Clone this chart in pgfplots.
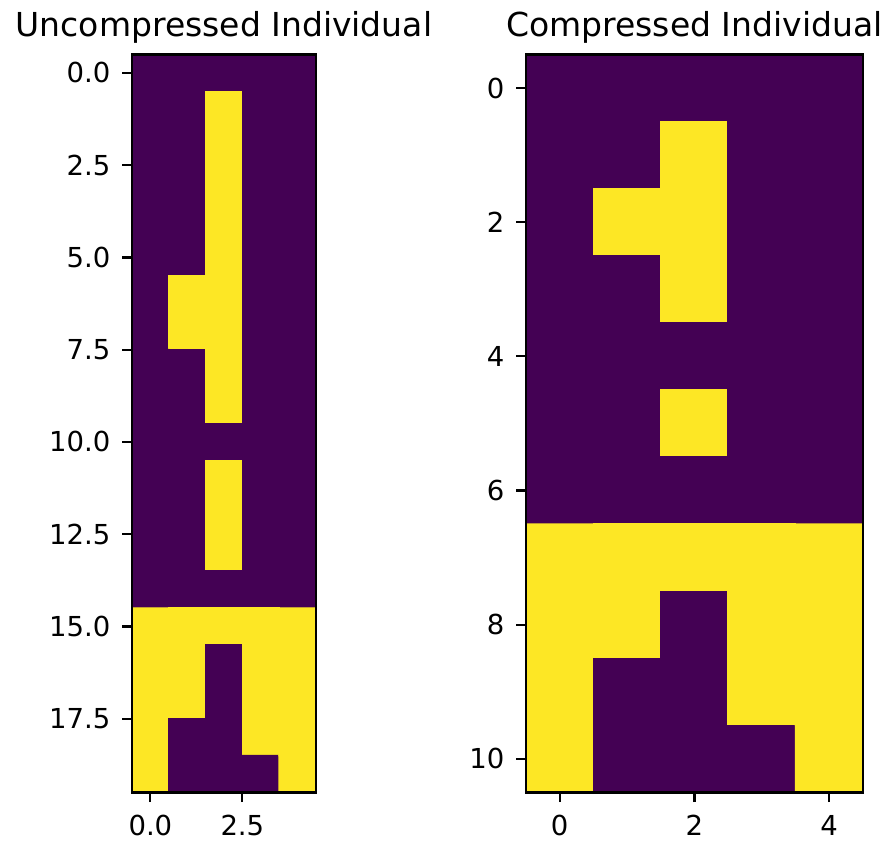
\documentclass[border=0pt]{standalone}
\usepackage{fontspec}
\setmainfont{DejaVu Sans}
\usepackage{pgfplots}
\pgfplotsset{compat=1.18}
\definecolor{vpurple}{RGB}{68,1,84}
\pgfplotsset{img/.style={
  scale only axis, y dir=reverse, axis on top,
  axis background/.style={fill=vpurple},
  colormap={vir}{rgb255=(68,1,84) rgb255=(253,231,37)},
  point meta min=0, point meta max=1,
  tick align=outside,
  ytick pos=left, xtick pos=left, xticklabel pos=left,
  axis line style={black, line width=0.8pt},
  every tick/.style={black, line width=0.8pt},
  major tick length=3.5pt,
  tick label style={font=\fontsize{10}{12}\selectfont, black},
  yticklabel style={inner sep=0pt, anchor=east, xshift=-4.2pt},
  xticklabel style={inner sep=0pt, anchor=north, yshift=-4.5pt},
  title style={font=\fontsize{12}{14}\selectfont, at={(0.5,1)}, anchor=base, yshift=0.7pt},
  /pgf/number format/assume math mode=true,
}}
\begin{document}
\begin{tikzpicture}
\useasboundingbox (0,0) rectangle (323.3pt,-306.5pt);
\begin{axis}[img, width=66.9pt, height=268.4pt,
  at={(81.45pt,-154.0pt)}, anchor=center,
  xmin=-0.5, xmax=4.5, ymin=-0.5, ymax=19.5,
  xtick={0,2.5}, ytick={0,2.5,5,7.5,10,12.5,15,17.5},
  xticklabel style={/pgf/number format/.cd, fixed, fixed zerofill, precision=1},
  yticklabel style={/pgf/number format/.cd, fixed, fixed zerofill, precision=1},
  title={Uncompressed Individual}]
\addplot[matrix plot*, shader=faceted, faceted color=mapped color, line width=0.5pt, mesh/cols=5, point meta=explicit] table[row sep=\\, meta=c] {
x y c \\
0 0 0 \\ 1 0 0 \\ 2 0 0 \\ 3 0 0 \\ 4 0 0 \\
0 1 0 \\ 1 1 0 \\ 2 1 1 \\ 3 1 0 \\ 4 1 0 \\
0 2 0 \\ 1 2 0 \\ 2 2 1 \\ 3 2 0 \\ 4 2 0 \\
0 3 0 \\ 1 3 0 \\ 2 3 1 \\ 3 3 0 \\ 4 3 0 \\
0 4 0 \\ 1 4 0 \\ 2 4 1 \\ 3 4 0 \\ 4 4 0 \\
0 5 0 \\ 1 5 0 \\ 2 5 1 \\ 3 5 0 \\ 4 5 0 \\
0 6 0 \\ 1 6 1 \\ 2 6 1 \\ 3 6 0 \\ 4 6 0 \\
0 7 0 \\ 1 7 1 \\ 2 7 1 \\ 3 7 0 \\ 4 7 0 \\
0 8 0 \\ 1 8 0 \\ 2 8 1 \\ 3 8 0 \\ 4 8 0 \\
0 9 0 \\ 1 9 0 \\ 2 9 1 \\ 3 9 0 \\ 4 9 0 \\
0 10 0 \\ 1 10 0 \\ 2 10 0 \\ 3 10 0 \\ 4 10 0 \\
0 11 0 \\ 1 11 0 \\ 2 11 1 \\ 3 11 0 \\ 4 11 0 \\
0 12 0 \\ 1 12 0 \\ 2 12 1 \\ 3 12 0 \\ 4 12 0 \\
0 13 0 \\ 1 13 0 \\ 2 13 1 \\ 3 13 0 \\ 4 13 0 \\
0 14 0 \\ 1 14 0 \\ 2 14 0 \\ 3 14 0 \\ 4 14 0 \\
0 15 1 \\ 1 15 1 \\ 2 15 1 \\ 3 15 1 \\ 4 15 1 \\
0 16 1 \\ 1 16 1 \\ 2 16 0 \\ 3 16 1 \\ 4 16 1 \\
0 17 1 \\ 1 17 1 \\ 2 17 0 \\ 3 17 1 \\ 4 17 1 \\
0 18 1 \\ 1 18 0 \\ 2 18 0 \\ 3 18 1 \\ 4 18 1 \\
0 19 1 \\ 1 19 0 \\ 2 19 0 \\ 3 19 0 \\ 4 19 1 \\
};
\end{axis}
\begin{axis}[img, width=122.5pt, height=268.4pt,
  at={(252.55pt,-154.0pt)}, anchor=center,
  xmin=-0.5, xmax=4.5, ymin=-0.5, ymax=10.5,
  xtick={0,2,4}, ytick={0,2,4,6,8,10},
  title={Compressed Individual}]
\addplot[matrix plot*, shader=faceted, faceted color=mapped color, line width=0.5pt, mesh/cols=5, point meta=explicit] table[row sep=\\, meta=c] {
x y c \\
0 0 0 \\ 1 0 0 \\ 2 0 0 \\ 3 0 0 \\ 4 0 0 \\
0 1 0 \\ 1 1 0 \\ 2 1 1 \\ 3 1 0 \\ 4 1 0 \\
0 2 0 \\ 1 2 1 \\ 2 2 1 \\ 3 2 0 \\ 4 2 0 \\
0 3 0 \\ 1 3 0 \\ 2 3 1 \\ 3 3 0 \\ 4 3 0 \\
0 4 0 \\ 1 4 0 \\ 2 4 0 \\ 3 4 0 \\ 4 4 0 \\
0 5 0 \\ 1 5 0 \\ 2 5 1 \\ 3 5 0 \\ 4 5 0 \\
0 6 0 \\ 1 6 0 \\ 2 6 0 \\ 3 6 0 \\ 4 6 0 \\
0 7 1 \\ 1 7 1 \\ 2 7 1 \\ 3 7 1 \\ 4 7 1 \\
0 8 1 \\ 1 8 1 \\ 2 8 0 \\ 3 8 1 \\ 4 8 1 \\
0 9 1 \\ 1 9 0 \\ 2 9 0 \\ 3 9 1 \\ 4 9 1 \\
0 10 1 \\ 1 10 0 \\ 2 10 0 \\ 3 10 0 \\ 4 10 1 \\
};
\end{axis}
\end{tikzpicture}
\end{document}
